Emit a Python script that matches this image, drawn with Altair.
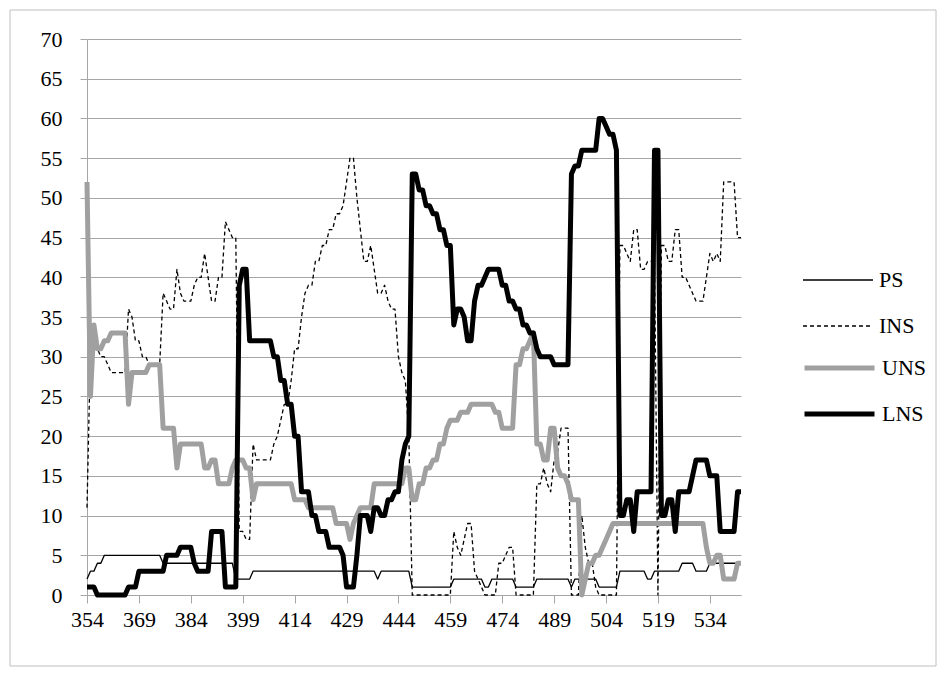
import altair as alt
import pandas as pd

# category axis (x) and tick labels
categories = list(range(354, 544))
x_tick_labels = [354, 369, 384, 399, 414, 429, 444, 459, 474, 489, 504, 519, 534]
y_tick_labels = [0, 5, 10, 15, 20, 25, 30, 35, 40, 45, 50, 55, 60, 65, 70]
series_names = ["PS", "INS", "UNS", "LNS"]

PS = [
    2, 3, 3, 4, 4, 5, 5, 5, 5, 5,        # 354-363
    5, 5, 5, 5, 5, 5, 5, 5, 5, 5,        # 364-373
    5, 5, 4, 4, 4, 4, 4, 4, 4, 4,        # 374-383
    4, 4, 4, 4, 4, 4, 4, 4, 4, 4,        # 384-393
    4, 4, 4, 2, 2, 2, 2, 2, 3, 3,        # 394-403
    3, 3, 3, 3, 3, 3, 3, 3, 3, 3,        # 404-413
    3, 3, 3, 3, 3, 3, 3, 3, 3, 3,        # 414-423
    3, 3, 3, 3, 3, 3, 3, 3, 3, 3,        # 424-433
    3, 3, 3, 3, 2, 3, 3, 3, 3, 3,        # 434-443
    3, 3, 3, 3, 1, 1, 1, 1, 1, 1,        # 444-453
    1, 1, 1, 1, 1, 1, 2, 2, 2, 2,        # 454-463
    2, 2, 2, 2, 2, 1, 1, 2, 2, 2,        # 464-473
    2, 2, 2, 2, 1, 1, 1, 1, 1, 1,        # 474-483
    2, 2, 2, 2, 2, 2, 2, 2, 2, 2,        # 484-493
    1, 2, 2, 2, 2, 2, 2, 2, 1, 1,        # 494-503
    1, 1, 1, 1, 3, 3, 3, 3, 3, 3,        # 504-513
    3, 3, 2, 2, 3, 3, 3, 3, 3, 3,        # 514-523
    3, 3, 4, 4, 4, 4, 3, 3, 3, 3,        # 524-533
    4, 4, 4, 4, 4, 4, 4, 4, 4, 4,        # 534-543
]

INS = [
    11, 31, 31, 31, 30, 30, 29, 28, 28, 28,   # 354-363
    28, 28, 36, 35, 32, 32, 30, 30, 29, 29,   # 364-373
    29, 29, 38, 37, 36, 36, 41, 38, 37, 37,   # 374-383
    37, 39, 40, 40, 43, 40, 37, 37, 40, 40,   # 384-393
    47, 46, 45, 45, 8, 8, 7, 7, 19, 17,       # 394-403
    17, 17, 17, 17, 19, 20, 22, 24, 24, 27,   # 404-413
    31, 31, 35, 38, 39, 39, 42, 42, 44, 44,   # 414-423
    46, 46, 48, 48, 49, 52, 55, 55, 50, 46,   # 424-433
    42, 42, 44, 41, 38, 38, 39, 37, 36, 36,   # 434-443
    30, 28, 27, 20, 0, 0, 0, 0, 0, 0,         # 444-453
    0, 0, 0, 0, 0, 0, 8, 6, 5, 7,             # 454-463
    9, 9, 3, 2, 1, 0, 0, 0, 0, 4,             # 464-473
    4, 5, 6, 6, 0, 0, 0, 0, 0, 0,             # 474-483
    14, 14, 16, 14, 13, 17, 18, 21, 21, 21,   # 484-493
    0, 0, 0, 10, 6, 4, 4, 1, 0, 0,            # 494-503
    0, 0, 0, 0, 44, 44, 43, 42, 46, 46,       # 504-513
    41, 41, 42, 42, 42, 0, 44, 44, 42, 42,    # 514-523
    46, 46, 40, 40, 39, 38, 37, 37, 37, 40,   # 524-533
    43, 42, 43, 42, 52, 52, 52, 52, 45, 45,   # 534-543
]

UNS = [
    52, 25, 34, 31, 31, 32, 32, 33, 33, 33,   # 354-363
    33, 33, 24, 28, 28, 28, 28, 28, 29, 29,   # 364-373
    29, 29, 21, 21, 21, 21, 16, 19, 19, 19,   # 374-383
    19, 19, 19, 19, 16, 16, 17, 17, 14, 14,   # 384-393
    14, 14, 16, 17, 17, 17, 16, 16, 12, 14,   # 394-403
    14, 14, 14, 14, 14, 14, 14, 14, 14, 14,   # 404-413
    12, 12, 12, 12, 11, 11, 11, 11, 11, 11,   # 414-423
    11, 11, 9, 9, 9, 9, 7, 9, 10, 11,         # 424-433
    11, 11, 11, 14, 14, 14, 14, 14, 14, 14,   # 434-443
    14, 14, 16, 16, 12, 12, 14, 14, 16, 16,   # 444-453
    17, 17, 19, 19, 21, 22, 22, 22, 23, 23,   # 454-463
    23, 24, 24, 24, 24, 24, 24, 24, 23, 23,   # 464-473
    21, 21, 21, 21, 29, 29, 31, 31, 32, 33,   # 474-483
    19, 19, 17, 17, 21, 21, 16, 15, 15, 14,   # 484-493
    12, 12, 12, 0, 2, 4, 4, 5, 5, 6,          # 494-503
    7, 8, 9, 9, 9, 9, 9, 9, 9, 9,             # 504-513
    9, 9, 9, 9, 9, 9, 9, 9, 9, 9,             # 514-523
    9, 9, 9, 9, 9, 9, 9, 9, 9, 6,             # 524-533
    4, 4, 5, 5, 2, 2, 2, 2, 4, 4,             # 534-543
]

LNS = [
    1, 1, 1, 0, 0, 0, 0, 0, 0, 0,             # 354-363
    0, 0, 1, 1, 1, 3, 3, 3, 3, 3,             # 364-373
    3, 3, 3, 5, 5, 5, 5, 6, 6, 6,             # 374-383
    6, 4, 3, 3, 3, 3, 8, 8, 8, 8,             # 384-393
    1, 1, 1, 1, 39, 41, 41, 32, 32, 32,       # 394-403
    32, 32, 32, 32, 30, 30, 27, 27, 24, 24,   # 404-413
    20, 20, 13, 13, 13, 10, 10, 8, 8, 8,      # 414-423
    6, 6, 6, 6, 5, 1, 1, 1, 5, 10,            # 424-433
    10, 10, 8, 11, 11, 10, 10, 12, 12, 13,    # 434-443
    13, 17, 19, 20, 53, 53, 51, 51, 49, 49,   # 444-453
    48, 48, 46, 46, 44, 44, 34, 36, 36, 35,   # 454-463
    32, 32, 37, 39, 39, 40, 41, 41, 41, 41,   # 464-473
    39, 39, 37, 37, 36, 36, 34, 34, 33, 33,   # 474-483
    31, 30, 30, 30, 30, 29, 29, 29, 29, 29,   # 484-493
    53, 54, 54, 56, 56, 56, 56, 56, 60, 60,   # 494-503
    59, 58, 58, 56, 10, 10, 12, 12, 8, 13,    # 504-513
    13, 13, 13, 13, 56, 56, 10, 10, 12, 12,   # 514-523
    8, 13, 13, 13, 13, 15, 17, 17, 17, 17,    # 524-533
    15, 15, 15, 8, 8, 8, 8, 8, 13, 13,        # 534-543
]

series_values = {"PS": PS, "INS": INS, "UNS": UNS, "LNS": LNS}
rows = []
for name in series_names:
    for c, v in zip(categories, series_values[name]):
        rows.append({"x": c, "value": v, "series": name})
df = pd.DataFrame(rows)

FONT = "Times"
GRID = "#A6A6A6"
thin_names = ["PS", "INS"]
thick_names = ["UNS", "LNS"]

legend_common = dict(orient="none", legendX=715, title=None,
                     symbolType="stroke", symbolSize=4900, clipHeight=20,
                     rowPadding=24, labelFont=FONT, labelFontSize=22,
                     labelColor="black", labelOffset=5, padding=0)
legend_thin = alt.Legend(legendY=231, symbolStrokeWidth=1.3, **legend_common)
legend_thick = alt.Legend(legendY=319, symbolStrokeWidth=5, **legend_common)

x_enc = alt.X("x:Q", scale=alt.Scale(domain=[354, 543], nice=False, zero=False),
              axis=alt.Axis(values=x_tick_labels, format="d", grid=False,
                            tickSize=8, tickColor=GRID, domainColor=GRID,
                            labelFont=FONT, labelFontSize=22,
                            labelColor="black",
                            labelPadding=6, labelFlush=False, title=None))
y_enc = alt.Y("value:Q", scale=alt.Scale(domain=[0, 70], nice=False),
              axis=alt.Axis(values=y_tick_labels, grid=True, gridColor=GRID,
                            tickSize=7, tickColor=GRID, domainColor=GRID,
                            labelFont=FONT, labelFontSize=22,
                            labelColor="black",
                            labelPadding=18, title=None))

layers = []
for name in thin_names:
    layers.append(
        alt.Chart(df).transform_filter(alt.datum.series == name)
        .mark_line(strokeJoin="round", strokeWidth=1.3)
        .encode(
            x=x_enc, y=y_enc,
            color=alt.Color("series:N", legend=legend_thin,
                            scale=alt.Scale(domain=thin_names,
                                            range=["#000000", "#000000"])),
            strokeDash=alt.StrokeDash("series:N", legend=legend_thin,
                                      scale=alt.Scale(domain=thin_names,
                                                      range=[[1, 0], [4, 3]])),
        )
    )
for name in thick_names:
    layers.append(
        alt.Chart(df).transform_filter(alt.datum.series == name)
        .mark_line(strokeJoin="round", strokeWidth=5)
        .encode(
            x=x_enc, y=y_enc,
            stroke=alt.Stroke("series:N", legend=legend_thick,
                              scale=alt.Scale(domain=thick_names,
                                              range=["#A0A0A0", "#000000"])),
        )
    )

border = alt.Chart(pd.DataFrame({"a": [0]})).mark_rect(
    fill=None, stroke="#BFBFBF", strokeWidth=1
).encode(x=alt.value(-77), x2=alt.value(849), y=alt.value(-29), y2=alt.value(627))

chart = alt.layer(border, *layers).properties(
    width=654, height=556,
    autosize=alt.AutoSizeParams(type="none"),
    padding={"left": 79, "top": 31, "right": 198, "bottom": 74},
).configure_view(stroke=None)

chart.save("out.html", embed_options={"renderer": "svg", "actions": False})
